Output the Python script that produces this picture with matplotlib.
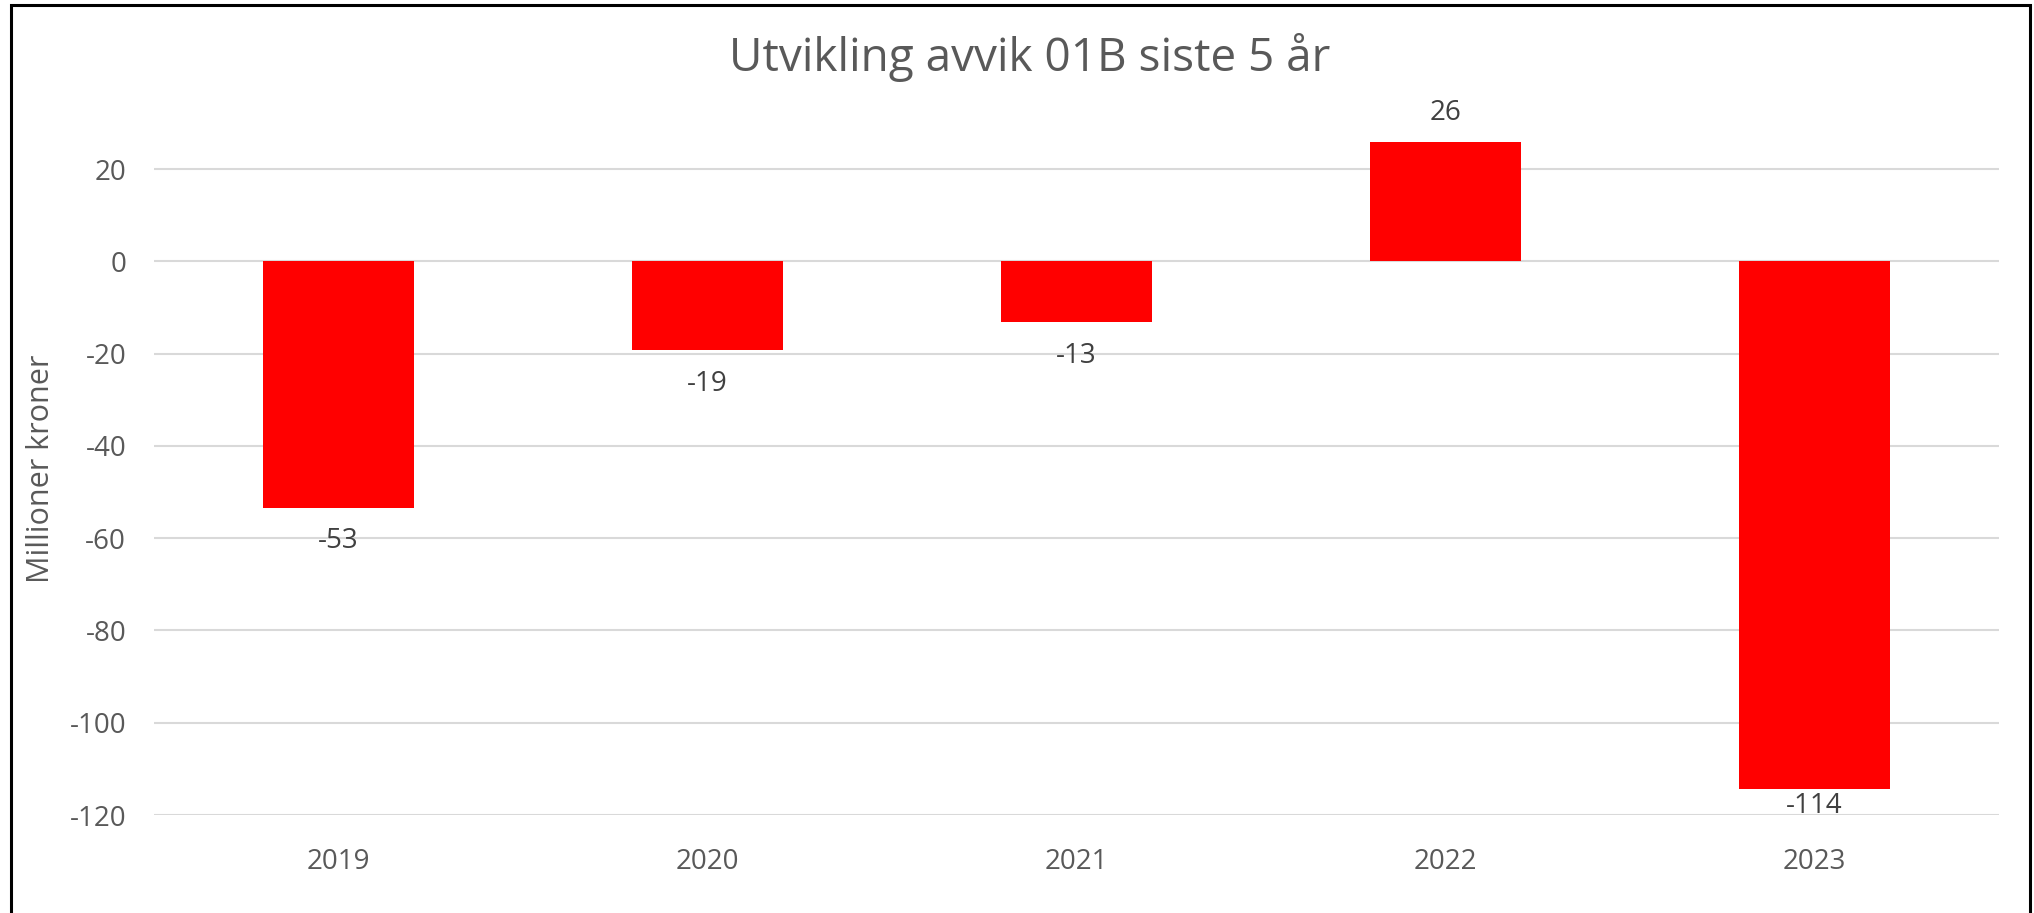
import matplotlib
matplotlib.use("Agg")
import matplotlib.pyplot as plt
from matplotlib.patches import Rectangle

years = ['2019', '2020', '2021', '2022', '2023']
avvik = [-53.4, -19.3, -13.2, 25.8, -114.3]
yticks = [20, 0, -20, -40, -60, -80, -100, -120]

plt.rcParams['font.family'] = ['Open Sans', 'DejaVu Sans']
plt.rcParams['axes.unicode_minus'] = False

fig = plt.figure(figsize=(20.34, 9.13), dpi=100)
ax = fig.add_axes([154 / 2034, 98 / 913, 1845 / 2034, 692 / 913])

x = range(len(years))
ax.bar(x, avvik, width=0.407, color='#ff0000', zorder=3)

# data labels, like excel: outside the bar end, kept inside the plot
for i, v in enumerate(avvik):
    if v >= 0:
        ly = v + 6.3
    else:
        ly = max(v - 7.2, -118.0)
    ax.text(i, ly, '%.0f' % v, ha='center', va='center', fontsize=20, color='#404040', zorder=4)

ax.set_xlim(-0.5, len(years) - 0.5)
ax.set_ylim(-120, 30)
ax.set_yticks(yticks)
ax.set_xticks(list(x))
ax.set_xticklabels(years)
ax.yaxis.grid(True, color='#d9d9d9', linewidth=1.5, zorder=0)
ax.set_axisbelow(True)
for s in ax.spines.values():
    s.set_visible(False)
ax.tick_params(axis='both', length=0, labelsize=20, labelcolor='#595959')
ax.tick_params(axis='y', pad=20)
ax.tick_params(axis='x', pad=24)

ax.set_ylabel('Millioner kroner', fontsize=22, color='#595959', labelpad=10)
fig.text(0.506, 1 - 57 / 913, 'Utvikling avvik 01B siste 5 år', ha='center', va='center',
         fontsize=33, color='#595959')

# chart border (bottom edge is cut off in the original)
fig.patches.append(Rectangle((11 / 2034, -0.1), 2019 / 2034, 1.1 - 5 / 913,
                             transform=fig.transFigure, fill=False,
                             edgecolor='black', linewidth=2.2))

fig.savefig('out.png', dpi=100)
